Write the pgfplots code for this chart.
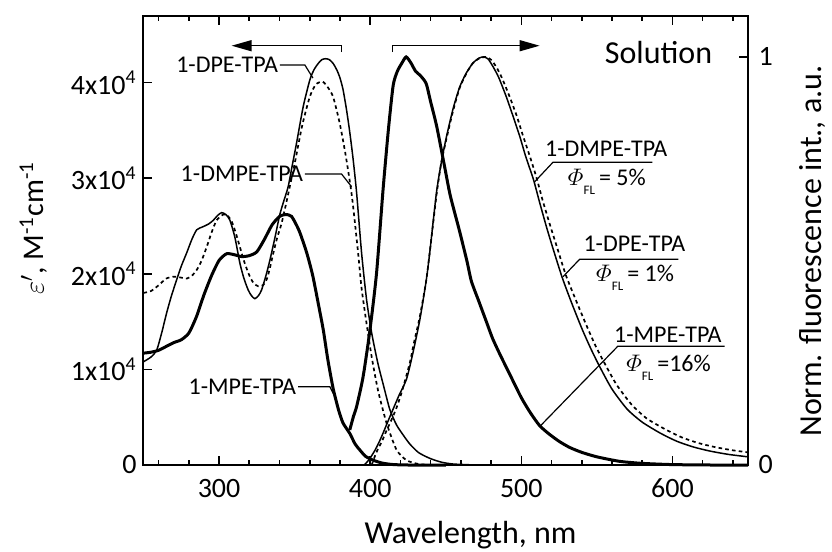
\documentclass[border=0pt]{standalone}
\usepackage{amsmath}
\usepackage{fontspec}
\setmainfont{Carlito}
\usepackage{pgfplots}
\pgfplotsset{compat=1.18}
\usetikzlibrary{arrows.meta}

\begin{document}
\begin{tikzpicture}
\pgfplotsset{
  specax/.style={
    scale only axis, width=302.25bp, height=224.65bp,
    xmin=250, xmax=650, clip=false,
    tick align=inside,
    major tick length=4.5bp, minor tick length=2.5bp,
    tick style={line width=0.8bp, black},
    axis line style={line width=1bp},
    tick label style={font=\fontsize{14bp}{16bp}\selectfont},
    label style={font=\fontsize{16bp}{19bp}\selectfont},
  },
  thin/.style={line width=0.75bp, smooth, tension=0.4},
  thk/.style={line width=1.5bp, smooth, tension=0.4},
  dots/.style={line width=0.85bp, dash pattern=on 1.8bp off 1.6bp, smooth, tension=0.4},
}
\tikzset{lab/.style={font=\fontsize{12bp}{14bp}\selectfont, inner sep=0.8bp}}
\newcommand{\phifl}[1]{{\fontsize{13bp}{14bp}\selectfont$\varPhi$}\raisebox{-4.5bp}{\fontsize{6.5bp}{7bp}\selectfont FL}\,#1}

% absorption, left axis (units of 10^4 M^-1 cm^-1)
\begin{axis}[specax, name=ax, ymin=0, ymax=4.70,
  xtick={300,400,500,600}, xticklabels={300,400,500,600},
  minor xtick={260,280,320,340,360,380,420,440,460,480,520,540,560,580,620,640},
  xtick pos=both, ytick pos=left,
  xticklabel style={yshift=-3.5bp},
  ytick={0,1,2,3,4},
  yticklabels={0,1x10\textsuperscript{4}\hspace{4.5bp},2x10\textsuperscript{4}\hspace{4.5bp},3x10\textsuperscript{4}\hspace{4.5bp},4x10\textsuperscript{4}\hspace{4.5bp}},
  xlabel={Wavelength, nm},
  ylabel={$\varepsilon'$, M\textsuperscript{-1}cm\textsuperscript{-1}},
  xlabel style={at={(axis description cs:0.541,-0.156)}, anchor=center},
  ylabel style={at={(axis description cs:-0.182,0.527)}, anchor=center,
                font=\fontsize{15bp}{18bp}\selectfont},
]
% 1-MPE-TPA
\addplot[thk] coordinates {
(250,1.17) (255,1.18) (260,1.20) (265,1.24) (270,1.28) (275,1.31) (280,1.38)
(285,1.55) (290,1.78) (295,1.98) (300,2.14) (305,2.21) (310,2.20) (315,2.18)
(320,2.19) (325,2.23) (330,2.36) (335,2.51) (340,2.60) (344,2.62) (348,2.60)
(353,2.45) (358,2.22) (362,1.98) (366,1.66) (369,1.41) (372,1.10) (375.5,0.80)
(379,0.58) (382,0.44) (386.5,0.33) (390,0.22) (393,0.16) (397,0.09) (402,0.05)
(408,0.02) (415,0.005) (425,0) (450,0)};
% 1-DPE-TPA
\addplot[thin] coordinates {
(250,1.08) (255,1.13) (258.7,1.20) (262,1.38) (265.3,1.59) (268.5,1.77) (272,1.94)
(275,2.08) (278.6,2.22) (282,2.36) (285.2,2.46) (289,2.49) (293,2.52) (296.2,2.56)
(299,2.61) (301.7,2.64) (304.5,2.62) (307.2,2.56) (310.5,2.38) (313.8,2.11)
(316.5,1.95) (319.3,1.83) (321.5,1.77) (323.7,1.74) (326,1.77) (328.1,1.83)
(331,1.98) (333.6,2.14) (337,2.38) (340.2,2.62) (343,2.77) (345.7,2.91)
(348.5,3.14) (351.3,3.37) (355.7,3.75) (360.1,4.03) (363,4.14) (365.6,4.20)
(368,4.24) (370.5,4.25) (373,4.24) (375.5,4.20) (378,4.13) (380,4.05) (382,3.93)
(384.3,3.72) (386.5,3.48) (388.7,3.20) (391,2.85) (394.3,2.22) (397.6,1.73)
(401,1.38) (405,1.07) (409,0.82) (413,0.58) (417.4,0.42) (422,0.31) (426.2,0.22)
(432,0.13) (439.4,0.07) (447,0.03) (455,0.01) (470,0)};
% 1-DMPE-TPA
\addplot[dots] coordinates {
(250,1.80) (255,1.82) (260,1.88) (265,1.95) (270,1.97) (275,1.96) (278.6,1.95)
(282,1.98) (285.2,2.04) (288.5,2.14) (291.8,2.28) (295,2.43) (298.4,2.56)
(302.8,2.62) (305.5,2.61) (308.3,2.55) (311,2.43) (313.8,2.28) (317,2.11)
(320.4,1.97) (323,1.90) (325.9,1.87) (329,1.88) (331.5,1.94) (333.5,2.05)
(335.8,2.21) (338.5,2.38) (341.4,2.53) (345,2.78) (350,3.15) (355,3.55)
(360,3.85) (364,3.98) (368.5,4.01) (372,3.95) (375.5,3.85) (379.9,3.57)
(384,3.22) (388,2.80) (392,2.22) (394.3,1.85) (397.6,1.48) (401,1.13)
(405.2,0.78) (410.8,0.44) (417.4,0.16) (424,0.05) (432,0.01) (440,0)};

% arrows
\draw[line width=0.7bp, -{Triangle[length=10bp,width=5.5bp]}] (381,4.32) -- (381,4.386) -- (308.3,4.386);
\draw[line width=0.7bp, -{Triangle[length=10bp,width=5.5bp]}] (414.7,4.32) -- (414.7,4.386) -- (512.1,4.386);
\node[font=\fontsize{16bp}{19bp}\selectfont, inner sep=0] at (590.8,4.31) {Solution};

% labels, absorption side
\draw[line width=0.6bp] (340.25,4.184) -- (356.8,4.184) -- (362.1,4.048);
\node[lab, anchor=east] at (340.25,4.184) {1-DPE-TPA};
\draw[line width=0.6bp] (356.8,3.045) -- (381,3.045) -- (387.7,2.911);
\node[lab, anchor=east] at (356.8,3.045) {1-DMPE-TPA};
\draw[line width=0.6bp] (352.3,0.819) -- (373.3,0.819) -- (377.7,0.68);
\node[lab, anchor=east] at (352.3,0.819) {1-MPE-TPA};

% labels, fluorescence side
\draw[line width=0.6bp] (586.7,3.166) -- (520.9,3.166) -- (508.85,2.963);
\node[lab] at (556.2,3.313) {1-DMPE-TPA};
\node[lab] at (556.6,2.96) {\phifl{= 5\%}};
\draw[line width=0.6bp] (604.0,2.152) -- (538.6,2.152) -- (527.6,1.970);
\node[lab] at (574.8,2.319) {1-DPE-TPA};
\node[lab] at (575.3,1.96) {\phifl{= 1\%}};
\draw[line width=0.6bp] (634.5,1.243) -- (563.9,1.243) -- (512.1,0.401);
\node[lab] at (597.0,1.36) {1-MPE-TPA};
\node[lab] at (597.4,1.02) {\phifl{=16\%}};
\end{axis}

% fluorescence, right axis (normalised)
\begin{axis}[specax, ymin=0, ymax=1.101,
  axis x line=none, axis y line*=right,
  ytick={0,1}, yticklabels={0,1},
  yticklabel style={xshift=1.8bp},
  ylabel={Norm. fluorescence int., a.u.},
  ylabel style={at={(axis description cs:1.107,0.476)}, anchor=center},
]
% 1-MPE-TPA
\addplot[thk] coordinates {
(386.5,0.086) (389,0.12) (391,0.143) (395.3,0.216) (399.8,0.33) (404.2,0.47)
(408.5,0.674) (412,0.82) (415.2,0.93) (418,0.965) (421,0.985) (423.8,1.0)
(427,0.985) (430,0.965) (433,0.955) (437,0.935) (440,0.89) (444,0.83)
(449.3,0.73) (453,0.66) (459,0.575) (464,0.50) (467,0.45) (472,0.40)
(477,0.35) (481,0.31) (486,0.27) (492,0.225) (500,0.165) (506,0.128)
(512,0.097) (518,0.077) (525,0.058) (532,0.043) (540,0.031) (550,0.02)
(565,0.009) (580,0.004) (600,0.001) (625,0) (650,0)};
% 1-DPE-TPA
\addplot[thin] coordinates {
(396,0) (399,0.012) (403,0.035) (407,0.065) (413,0.118) (419,0.17) (424,0.21)
(428,0.27) (432.8,0.355) (437,0.45) (439.4,0.52) (443.8,0.666) (447,0.74)
(450.5,0.805) (455,0.875) (459.3,0.927) (463.5,0.96) (468,0.985) (472,0.997)
(475,1.0) (478,0.995) (481.3,0.976) (485,0.95) (490,0.903) (494.5,0.855)
(499,0.805) (503,0.755) (508,0.70) (512,0.645) (516.6,0.584) (521,0.53)
(527,0.46) (533,0.40) (540,0.335) (546,0.285) (552,0.24) (560,0.186)
(570,0.137) (580,0.105) (592,0.078) (603,0.058) (614,0.044) (625,0.034)
(637,0.026) (650,0.02)};
% 1-DMPE-TPA
\addplot[dots] coordinates {
(401,0) (404,0.03) (408,0.06) (411,0.086) (414,0.11) (417.4,0.14) (421,0.18)
(426.2,0.25) (429,0.30) (432.8,0.363) (437,0.45) (440,0.54) (444,0.665)
(447,0.74) (450.5,0.80) (455,0.87) (459.3,0.925) (464,0.962) (468,0.985)
(472,0.996) (476.5,1.0) (480,0.993) (483.5,0.975) (487,0.95) (492,0.905)
(497,0.855) (501,0.808) (505.5,0.758) (510,0.705) (514,0.65) (519,0.588)
(523.5,0.535) (529.5,0.465) (536,0.405) (543,0.343) (549,0.293) (555,0.25)
(563,0.197) (573,0.148) (583,0.114) (595,0.088) (606,0.068) (617,0.054)
(628,0.044) (640,0.036) (650,0.031)};
\end{axis}

\pgfresetboundingbox
\path[use as bounding box] (ax.south west) ++(-71.75bp,-43.5bp) rectangle ++(416bp,276bp);
\end{tikzpicture}
\end{document}
